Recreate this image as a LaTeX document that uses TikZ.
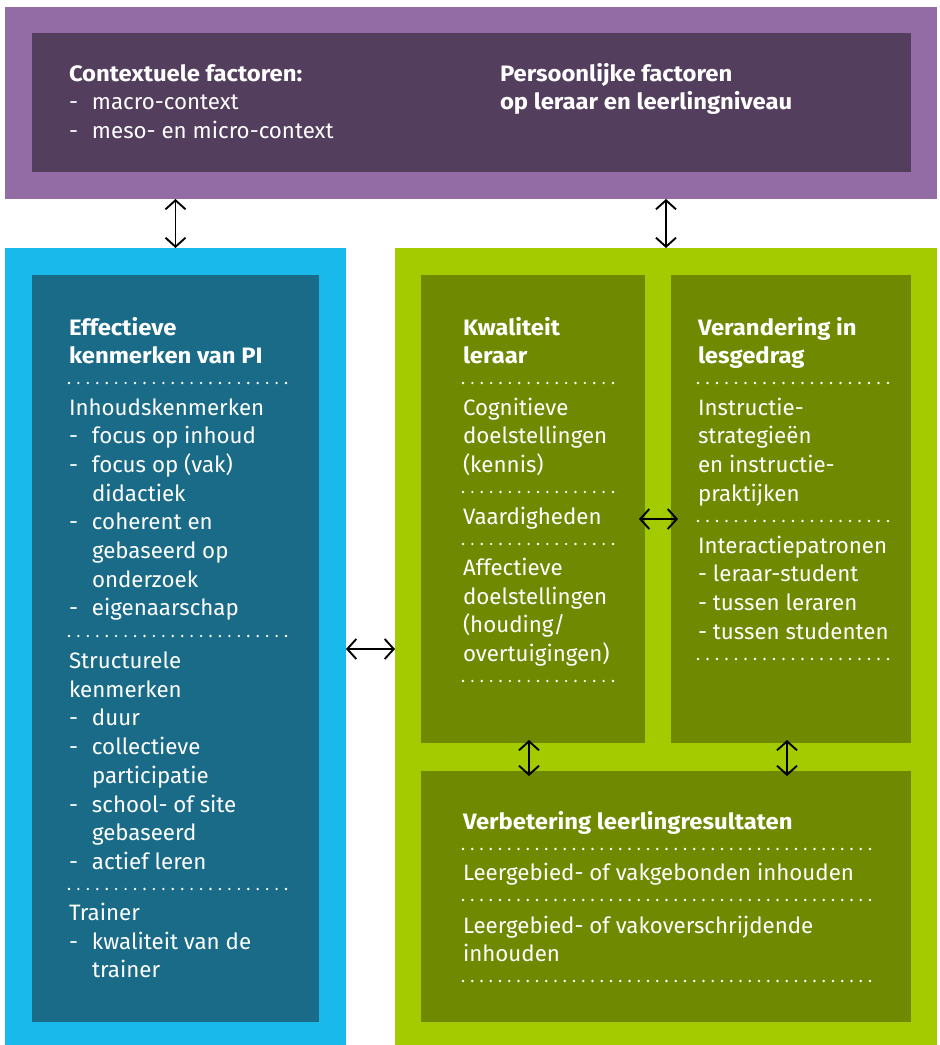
\documentclass[tikz,border=0pt]{standalone}
\usepackage{fontspec}
\setmainfont{Fira Sans}[BoldFeatures={FakeStretch=1.07}]
\usetikzlibrary{arrows.meta}
\definecolor{purpleOut}{HTML}{936BA5}
\definecolor{purpleIn}{HTML}{543E5E}
\definecolor{blueOut}{HTML}{19B9EC}
\definecolor{blueIn}{HTML}{196B87}
\definecolor{greenOut}{HTML}{A3CB00}
\definecolor{greenIn}{HTML}{6F8900}
\newcommand\bl{\makebox[23pt][l]{-}}
\newcommand\ind{\hspace*{23pt}}
\newcommand\fl{\rule{0pt}{18pt}}
\newcommand\dotl[3]{%
  \pgfmathtruncatemacro\nd{round((#3-#2)/9.3)}%
  \pgfmathsetmacro\dsp{(#3-#2)/\nd}%
  \foreach \i in {0,...,\nd}{\fill[white] ({#2+\i*\dsp},#1) circle (1.3pt);}}
\begin{document}
\begin{tikzpicture}[x=1pt,y=-1pt,
 box/.style={anchor=north west, inner sep=0pt, outer sep=0pt, draw=none},
 txt/.style={anchor=north west, inner sep=0pt, outer sep=0pt, yshift=1pt, align=left, text=white, font=\fontsize{22.3}{28.7}\selectfont},
 hd/.style={txt, font=\fontsize{22.3}{28.7}\selectfont\bfseries},
 arr/.style={black, line width=1.9pt, {Straight Barb[length=9pt,width=20pt]}-{Straight Barb[length=9pt,width=20pt]}}]
\useasboundingbox (0,0) rectangle (940,1045);
% boxes
\node[box, fill=purpleOut, minimum width=932pt, minimum height=192pt] (pOut) at (5,7) {};
\node[box, fill=purpleIn, minimum width=879pt, minimum height=139pt] (pIn) at (32,33) {};
\node[box, fill=blueOut, minimum width=341pt, minimum height=797pt] (bOut) at (5,248) {};
\node[box, fill=blueIn, minimum width=287pt, minimum height=747pt] (bIn) at (32,275) {};
\node[box, fill=greenOut, minimum width=542pt, minimum height=797pt] (gOut) at (395,248) {};
\node[box, fill=greenIn, minimum width=224pt, minimum height=468pt] (kw) at (421,275) {};
\node[box, fill=greenIn, minimum width=240pt, minimum height=468pt] (vl) at (671,275) {};
\node[box, fill=greenIn, minimum width=490pt, minimum height=251pt] (res) at (421,771) {};
% purple texts
\node[txt] (ctx) at (69,64) {\fl\textbf{Contextuele factoren:}\\\bl macro-context\\\bl meso- en micro-context};
\node[hd] (pers) at (500,64) {\fl Persoonlijke factoren\\op leraar en leerlingniveau};
% blue texts
\node[hd] (effh) at (69,318) {\fl Effectieve\\kenmerken van PI};
\dotl{383}{69}{286}
\node[txt] (inh) at (69,398) {\fl Inhoudskenmerken\\\bl focus op inhoud\\\bl focus op (vak)\\\ind didactiek\\\bl coherent en\\\ind gebaseerd op\\\ind onderzoek\\\bl eigenaarschap};
\dotl{636}{69}{286}
\node[txt] (struc) at (69,651.5) {\fl Structurele\\kenmerken\\\bl duur\\\bl collectieve\\\ind participatie\\\bl school- of site\\\ind gebaseerd\\\bl actief leren};
\dotl{889}{69}{286}
\node[txt] (trainer) at (69,903.5) {\fl Trainer\\\bl kwaliteit van de\\\ind trainer};
% green left
\node[hd] (kwh) at (463,318) {\fl Kwaliteit\\leraar};
\dotl{383}{463}{613}
\node[txt] (cog) at (463,398) {\fl Cognitieve\\doelstellingen\\(kennis)};
\dotl{492}{463}{613}
\node[txt] (vaar) at (463,507.5) {\fl Vaardigheden};
\dotl{544}{463}{613}
\node[txt] (aff) at (463,558.5) {\fl Affectieve\\doelstellingen\\(houding/\\overtuigingen)};
\dotl{681}{463}{613}
% green right
\node[hd] (verh) at (698,318) {\fl Verandering in\\lesgedrag};
\dotl{383}{698}{888}
\node[txt] (instr) at (698,398) {\fl Instructie-\\strategieën\\en instructie-\\praktijken};
\dotl{521}{698}{888}
\node[txt] (inter) at (698,536) {\fl Interactiepatronen\\- leraar-student\\- tussen leraren\\- tussen studenten};
\dotl{659}{698}{888}
% bottom
\node[hd] (resh) at (463,812.5) {\fl Verbetering leerlingresultaten};
\dotl{849}{463}{870}
\node[txt] (r1) at (463,863.5) {\fl Leergebied- of vakgebonden inhouden};
\dotl{900}{463}{870}
\node[txt] (r2) at (463,916) {\fl Leergebied- of vakoverschrijdende\\inhouden};
\dotl{981}{463}{870}
% arrows
\coordinate (hy) at (0,649);
\coordinate (my) at (0,519);
\draw[arr] (bIn.north |- pOut.south) -- (bIn.north |- bOut.north);
\draw[arr] (gOut.north |- pOut.south) -- (gOut.north);
\draw[arr] (bOut.east |- hy) -- (gOut.west |- hy);
\draw[arr] ([xshift=-6pt]kw.east |- my) -- ([xshift=7pt]vl.west |- my);
\draw[arr] ([xshift=-4pt,yshift=3pt]kw.south) -- ([xshift=-4pt,yshift=-5pt]kw.south |- res.north);
\draw[arr] ([xshift=-4pt,yshift=3pt]vl.south) -- ([xshift=-4pt,yshift=-5pt]vl.south |- res.north);
\end{tikzpicture}
\end{document}
